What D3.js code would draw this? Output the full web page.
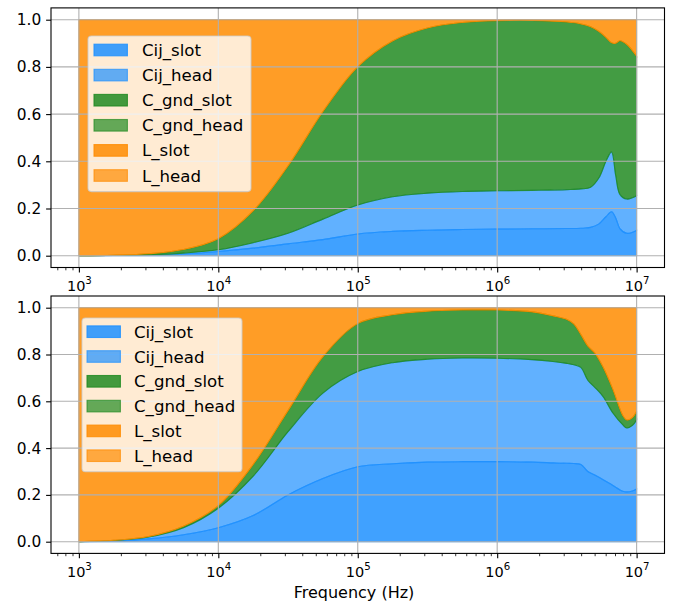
<!DOCTYPE html>
<html>
<head>
<meta charset="utf-8">
<script src="https://cdn.jsdelivr.net/npm/d3@7"></script>
<style>
body { margin: 0; background: #fff; }
text { font-family: "DejaVu Sans", sans-serif; fill: #000; }
</style>
</head>
<body>
<svg id="chart" width="680" height="604"></svg>
<script>
var seriesNames = ["Cij_slot", "Cij_head", "C_gnd_slot", "C_gnd_head", "L_slot", "L_head"];
var seriesColors = ["#1e90ff", "#1e90ff", "#228b22", "#228b22", "#ff8c00", "#ff8c00"];
var seriesAlpha = [0.85, 0.7, 0.85, 0.7, 0.85, 0.7];
var yTicks = [0, 0.2, 0.4, 0.6, 0.8, 1.0];
var xTickExps = [3, 4, 5, 6, 7];

// top panel, x given as log10(Hz)
var topLogFreq   = [3.0, 3.25, 3.5, 3.75, 4.0, 4.25, 4.5, 4.75, 5.0, 5.25, 5.5, 5.75, 6.0, 6.25, 6.5, 6.6, 6.67, 6.73, 6.78, 6.82, 6.85, 6.88, 6.93, 7.0];
var topCijSlot   = [0, 0.001, 0.003, 0.008, 0.018, 0.032, 0.05, 0.068, 0.092, 0.103, 0.108, 0.111, 0.113, 0.114, 0.115, 0.116, 0.12, 0.135, 0.165, 0.186, 0.16, 0.115, 0.095, 0.107];
var topCijHead   = [0, 0.0005, 0.001, 0.003, 0.007, 0.023, 0.045, 0.087, 0.123, 0.147, 0.157, 0.161, 0.162, 0.163, 0.165, 0.167, 0.17, 0.195, 0.235, 0.254, 0.18, 0.145, 0.145, 0.147];
var topGndSlot   = [0, 0.0005, 0.004, 0.015, 0.047, 0.135, 0.285, 0.455, 0.585, 0.66, 0.7, 0.716, 0.721, 0.72, 0.71, 0.699, 0.68, 0.62, 0.525, 0.462, 0.56, 0.651, 0.655, 0.591];
var topGndHead   = [0, 0, 0, 0, 0, 0, 0, 0, 0, 0, 0, 0, 0, 0, 0, 0, 0, 0, 0, 0, 0, 0, 0, 0];
var topLSlot     = [1, 0.998, 0.992, 0.974, 0.928, 0.81, 0.62, 0.39, 0.2, 0.09, 0.035, 0.012, 0.004, 0.003, 0.01, 0.018, 0.03, 0.05, 0.075, 0.098, 0.1, 0.089, 0.105, 0.155];
var topLHead     = [0, 0, 0, 0, 0, 0, 0, 0, 0, 0, 0, 0, 0, 0, 0, 0, 0, 0, 0, 0, 0, 0, 0, 0];

// bottom panel
var botLogFreq   = [3.0, 3.25, 3.5, 3.75, 4.0, 4.25, 4.5, 4.75, 5.0, 5.25, 5.5, 5.75, 6.0, 6.25, 6.4, 6.5, 6.55, 6.6, 6.65, 6.7, 6.76, 6.83, 6.9, 6.93, 6.97, 7.0];
var botCijSlot   = [0, 0.003, 0.012, 0.03, 0.06, 0.112, 0.2, 0.27, 0.32, 0.333, 0.34, 0.342, 0.342, 0.34, 0.337, 0.335, 0.334, 0.33, 0.3, 0.285, 0.265, 0.24, 0.216, 0.213, 0.217, 0.225];
var botCijHead   = [0, 0.002, 0.008, 0.03, 0.083, 0.168, 0.27, 0.365, 0.407, 0.432, 0.44, 0.443, 0.442, 0.438, 0.433, 0.427, 0.422, 0.415, 0.39, 0.375, 0.355, 0.31, 0.284, 0.273, 0.28, 0.295];
var botGndSlot   = [0, 0.001, 0.002, 0.006, 0.011, 0.05, 0.09, 0.155, 0.205, 0.205, 0.205, 0.205, 0.206, 0.204, 0.195, 0.188, 0.174, 0.14, 0.146, 0.146, 0.125, 0.1, 0.04, 0.034, 0.033, 0.036];
var botGndHead   = [0, 0, 0, 0, 0, 0, 0, 0, 0, 0, 0, 0, 0, 0, 0, 0, 0, 0, 0, 0, 0, 0, 0, 0, 0, 0];
var botLSlot     = [1, 0.994, 0.978, 0.934, 0.846, 0.67, 0.44, 0.21, 0.068, 0.03, 0.015, 0.01, 0.01, 0.018, 0.035, 0.05, 0.07, 0.115, 0.164, 0.194, 0.255, 0.35, 0.46, 0.48, 0.47, 0.444];
var botLHead     = [0, 0, 0, 0, 0, 0, 0, 0, 0, 0, 0, 0, 0, 0, 0, 0, 0, 0, 0, 0, 0, 0, 0, 0, 0, 0];

var svg = d3.select("#chart"),
    left = 51,
    right = 664.5;

var x = d3.scaleLog().domain([Math.pow(10, 2.8), Math.pow(10, 7.2)]).range([left, right]);

drawPanel(topLogFreq, [topCijSlot, topCijHead, topGndSlot, topGndHead, topLSlot, topLHead],
    {top: 7.9, bottom: 267.5}, {x: 88, y: 36, w: 163, rowY: 50, handleX: 94, textX: 142, step: 25.1});
drawPanel(botLogFreq, [botCijSlot, botCijHead, botGndSlot, botGndHead, botLSlot, botLHead],
    {top: 296, bottom: 553.4}, {x: 82, y: 318, w: 160, rowY: 331.7, handleX: 87, textX: 134, step: 24.8});

svg.append("text")
    .attr("x", 354)
    .attr("y", 597.5)
    .attr("text-anchor", "middle")
    .style("font-size", "16px")
    .text("Frequency (Hz)");

function drawPanel(logFreq, values, box, lg) {
    var y = d3.scaleLinear().domain([-0.05, 1.05]).range([box.bottom, box.top]),
        g = svg.append("g");

    var rows = logFreq.map(function(e, i) {
        var r = {f: Math.pow(10, e)};
        seriesNames.forEach(function(n, k) { r[n] = values[k][i]; });
        return r;
    });
    var stacked = d3.stack().keys(seriesNames)(rows);

    var area = d3.area()
        .curve(d3.curveCatmullRom.alpha(0.5))
        .x(function(d) { return x(d.data.f); })
        .y0(function(d) { return y(d[0]); })
        .y1(function(d) { return y(d[1]); });

    g.selectAll(".layer")
        .data(stacked)
        .enter().append("path")
        .attr("class", "layer")
        .attr("d", area)
        .attr("fill", function(d, i) { return seriesColors[i]; })
        .attr("fill-opacity", function(d, i) { return seriesAlpha[i]; })
        .attr("stroke", function(d, i) { return seriesColors[i]; })
        .attr("stroke-opacity", function(d, i) { return seriesAlpha[i]; })
        .attr("stroke-width", 1.1);

    // grid over the areas, like matplotlib
    var grid = g.append("g").attr("stroke", "#b0b0b0").attr("stroke-width", 1.1);
    xTickExps.forEach(function(e) {
        var px = x(Math.pow(10, e));
        grid.append("line").attr("x1", px).attr("x2", px).attr("y1", box.top).attr("y2", box.bottom);
    });
    yTicks.forEach(function(t) {
        grid.append("line").attr("x1", left).attr("x2", right).attr("y1", y(t)).attr("y2", y(t));
    });

    // x axis
    var minor = [];
    for (var dec = 2; dec <= 7; dec++) {
        for (var m = 2; m <= 9; m++) {
            var v = m * Math.pow(10, dec);
            if (v > x.domain()[0] && v < x.domain()[1]) minor.push(v);
        }
    }
    var xAxis = g.append("g")
        .attr("transform", "translate(0," + box.bottom + ")")
        .call(d3.axisBottom(x).tickValues(xTickExps.map(function(e) { return Math.pow(10, e); }))
            .tickSizeInner(4.9).tickSizeOuter(0).tickPadding(4.9).tickFormat(""));
    xAxis.select(".domain").remove();
    xAxis.selectAll(".tick line").attr("stroke-width", 1.1);
    xAxis.selectAll(".tick").append("text")
        .attr("y", 23.4)
        .attr("text-anchor", "middle")
        .style("font-size", "14.5px")
        .each(function(d) {
            var t = d3.select(this);
            t.append("tspan").text("10");
            t.append("tspan").attr("dy", -6.6).style("font-size", "10.2px").text(Math.round(Math.log10(d)));
        });

    var xMinor = g.append("g")
        .attr("transform", "translate(0," + box.bottom + ")")
        .call(d3.axisBottom(x).tickValues(minor).tickSizeInner(2.8).tickSizeOuter(0).tickFormat(""));
    xMinor.select(".domain").remove();
    xMinor.selectAll(".tick line").attr("stroke-width", 0.8);

    // y axis
    var yAxis = g.append("g")
        .attr("transform", "translate(" + left + ",0)")
        .call(d3.axisLeft(y).tickValues(yTicks).tickSizeInner(4.9).tickSizeOuter(0).tickPadding(4.9).tickFormat(d3.format(".1f")));
    yAxis.select(".domain").remove();
    yAxis.selectAll(".tick line").attr("stroke-width", 1.1);
    yAxis.selectAll(".tick text").attr("fill", "#000").style("font-size", "15.4px").style("font-family", "DejaVu Sans");

    // frame
    g.append("rect")
        .attr("x", left).attr("y", box.top)
        .attr("width", right - left).attr("height", box.bottom - box.top)
        .attr("fill", "none").attr("stroke", "#000").attr("stroke-width", 1.1);

    // legend
    var leg = g.append("g");
    leg.append("rect")
        .attr("x", lg.x).attr("y", lg.y)
        .attr("width", lg.w).attr("height", lg.step * 6 + 5)
        .attr("rx", 3.5)
        .attr("fill", "#fff").attr("fill-opacity", 0.8)
        .attr("stroke", "#ccc").attr("stroke-opacity", 0.8).attr("stroke-width", 1.1);
    seriesNames.forEach(function(n, i) {
        var cy = lg.rowY + i * lg.step;
        leg.append("rect")
            .attr("x", lg.handleX).attr("y", cy - 5.8)
            .attr("width", 33.4).attr("height", 11.6)
            .attr("fill", seriesColors[i]).attr("fill-opacity", seriesAlpha[i])
            .attr("stroke", seriesColors[i]).attr("stroke-opacity", seriesAlpha[i])
            .attr("stroke-width", 1.1);
        leg.append("text")
            .attr("x", lg.textX).attr("y", cy + 6)
            .style("font-size", "16.6px")
            .text(n);
    });
}
</script>
</body>
</html>
